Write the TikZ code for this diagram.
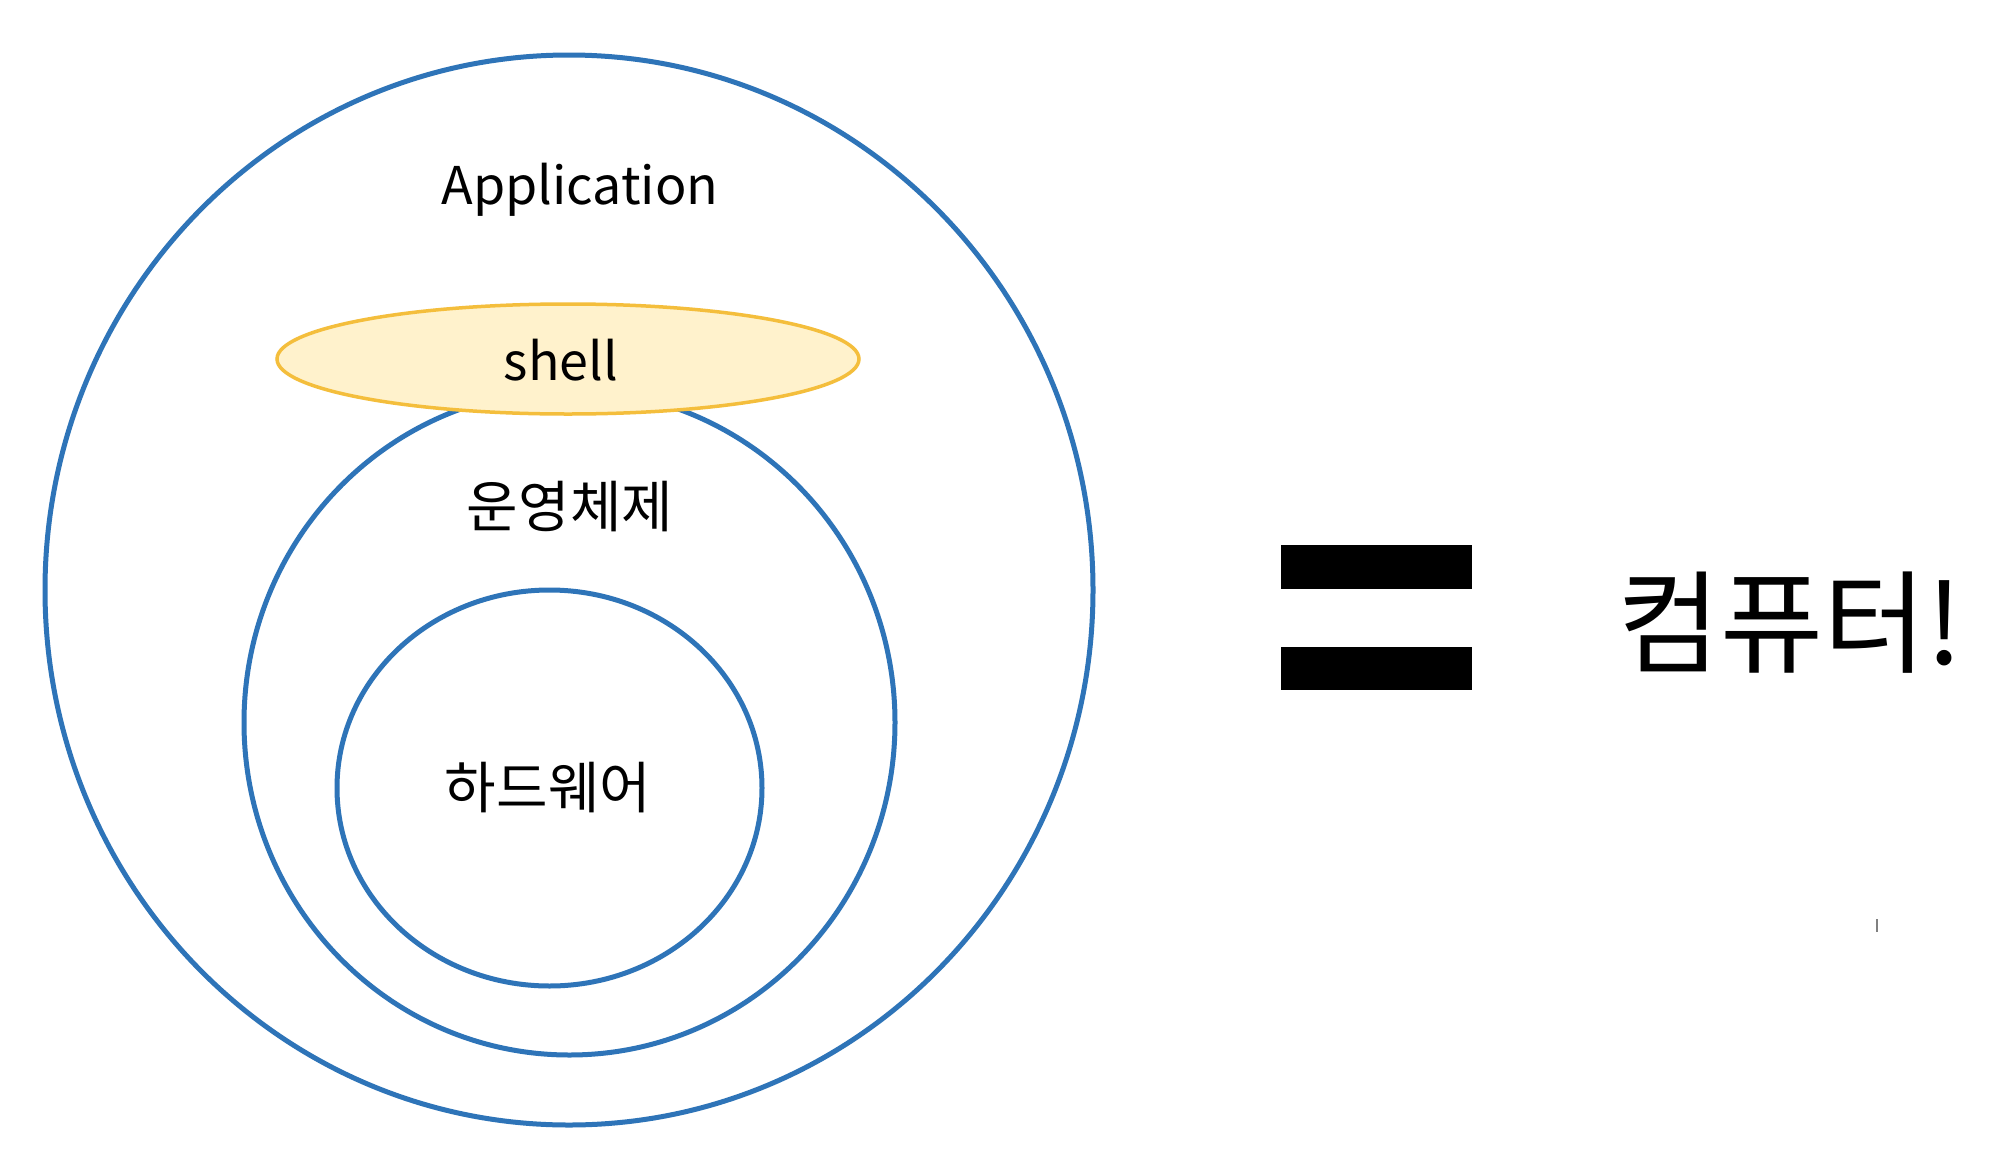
\documentclass[tikz,border=0pt]{standalone}
\usepackage{fontspec}
\setmainfont{Noto Sans CJK KR}
\usetikzlibrary{shapes.geometric}
\definecolor{ringblue}{HTML}{2E74B8}
\definecolor{shellfill}{HTML}{FFF2CC}
\definecolor{shelldraw}{HTML}{F4BE3C}
\tikzset{
  ring/.style={ellipse, draw=ringblue, line width=5pt, inner sep=0pt},
  shellbox/.style={ellipse, draw=shelldraw, fill=shellfill, line width=3.5pt, inner sep=0pt},
  lbl/.style={anchor=base, inner sep=0pt, font=\fontsize{52}{60}\selectfont},
  hangul/.style={lbl, font=\fontsize{56}{62}\selectfont},
  bar/.style={fill=black, draw=none, inner sep=0pt}
}
\begin{document}
\begin{tikzpicture}[x=1pt,y=-1pt]
\useasboundingbox (0,0) rectangle (1998,1154);
\fill[white] (0,0) rectangle (1998,1154);
% rings
\node[ring, minimum width=1048pt, minimum height=1070pt] (outer) at (569,590) {};
\node[ring, minimum width=651pt, minimum height=665pt] (os) at (569.5,722.5) {};
\node[ring, minimum width=425pt, minimum height=396pt] (hw) at (549.5,788) {};
\node[shellbox, minimum width=582pt, minimum height=110pt] (shell) at (568,359) {};
% labels
\node[lbl] (app) at (580,204) {Application};
\node[lbl] (shelltxt) at (561,380) {shell};
\node[hangul] (ostxt) at (570,527) {운영체제};
\node[hangul] (hwtxt) at (548,808) {하드웨어};
% equals sign
\node[bar, minimum width=191pt, minimum height=44pt] (eqtop) at (1376.5,567) {};
\node[bar, minimum width=191pt, minimum height=43pt] (eqbot) at (1376.5,668.5) {};
\node[lbl, font=\fontsize{112}{120}\selectfont] (comp) at (1790,664) {컴퓨터!};
% stray mark
\draw[gray, line width=1.5pt] (1877,919) -- (1877,932);
\end{tikzpicture}
\end{document}
